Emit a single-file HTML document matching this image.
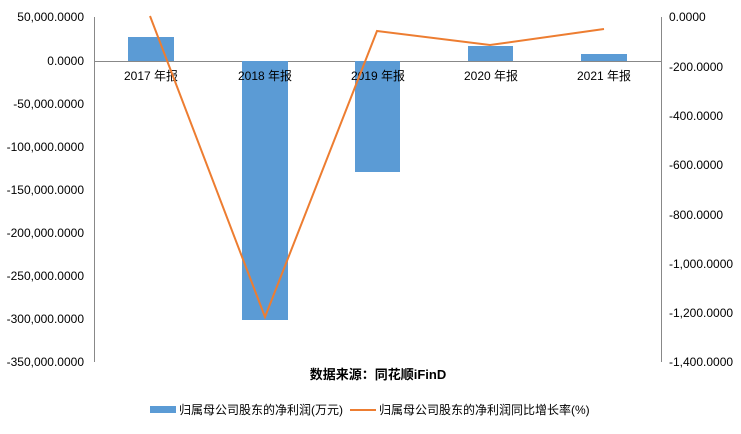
<!DOCTYPE html>
<html><head><meta charset="utf-8"><style>
body{margin:0;background:#fff;}
svg text{font-family:"Liberation Sans","Noto Sans CJK SC",sans-serif;font-size:12px;fill:#000;}
</style></head><body>
<svg width="741" height="429" xmlns="http://www.w3.org/2000/svg">
<line x1="94.5" y1="17" x2="94.5" y2="362" stroke="#888"/>
<line x1="661.5" y1="17" x2="661.5" y2="362" stroke="#888"/>
<line x1="94" y1="61.5" x2="661" y2="61.5" stroke="#888"/>
<g text-anchor="end">
<text x="84" y="21">50,000.0000</text>
<text x="84" y="65">0.0000</text>
<text x="84" y="108">-50,000.0000</text>
<text x="84" y="151">-100,000.0000</text>
<text x="84" y="194">-150,000.0000</text>
<text x="84" y="237">-200,000.0000</text>
<text x="84" y="280">-250,000.0000</text>
<text x="84" y="323">-300,000.0000</text>
<text x="84" y="366">-350,000.0000</text>
</g>
<g text-anchor="start">
<text x="669" y="21">0.0000</text>
<text x="669" y="71">-200.0000</text>
<text x="669" y="120">-400.0000</text>
<text x="669" y="169">-600.0000</text>
<text x="669" y="219">-800.0000</text>
<text x="669" y="268">-1,000.0000</text>
<text x="669" y="317">-1,200.0000</text>
<text x="669" y="366">-1,400.0000</text>
</g>
<g fill="#5b9bd5">
<rect x="128" y="37" width="46" height="24"/>
<rect x="242" y="61" width="46" height="259"/>
<rect x="355" y="61" width="45" height="111"/>
<rect x="468" y="46" width="45" height="15"/>
<rect x="581" y="54" width="46" height="7"/>
</g>
<g text-anchor="middle">
<text x="151" y="80">2017 年报</text>
<text x="265" y="80">2018 年报</text>
<text x="378" y="80">2019 年报</text>
<text x="491" y="80">2020 年报</text>
<text x="604" y="80">2021 年报</text>
</g>
<polyline points="150,16 265,317 377,31 490,45 604,29" fill="none" stroke="#ed7d31" stroke-width="2"/>
<text x="378" y="379" text-anchor="middle" style="font-weight:bold;font-size:13px">数据来源：同花顺iFinD</text>
<rect x="150" y="406" width="26" height="7" fill="#5b9bd5"/>
<text x="179" y="414">归属母公司股东的净利润(万元)</text>
<line x1="350" y1="410" x2="376" y2="410" stroke="#ed7d31" stroke-width="2"/>
<text x="379" y="414">归属母公司股东的净利润同比增长率(%)</text>
</svg>
</body></html>
